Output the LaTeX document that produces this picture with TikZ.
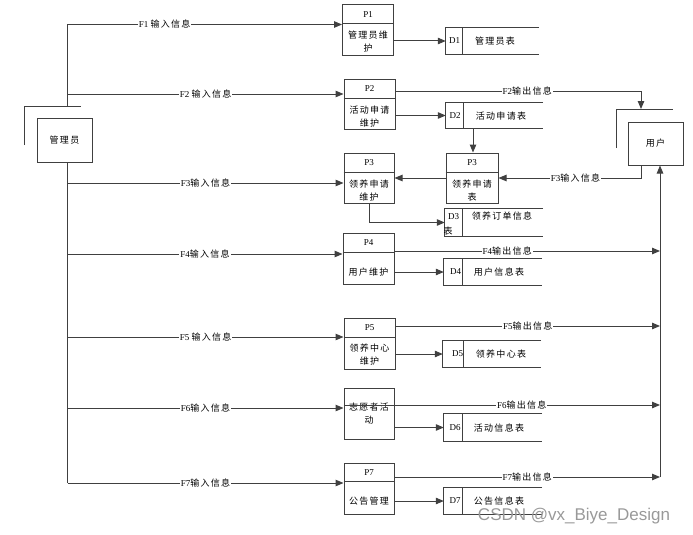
\documentclass[tikz,border=0pt]{standalone}
\usepackage{fontspec}
\setmainfont{Liberation Serif}
\newfontfamily\cjk[LetterSpace=14]{Noto Sans CJK SC}
\newfontfamily\wmfont{Liberation Sans}
\usetikzlibrary{arrows.meta}
\newcommand\zh[1]{{\cjk #1}}
\begin{document}
\begin{tikzpicture}[x=1pt,y=-1pt,
  every node/.style={font=\fontsize{9}{13}\selectfont, inner sep=0pt},
  zhn/.style={font=\cjk\fontsize{9}{13}\selectfont, align=center},
  ln/.style={draw=black!75, line width=1pt},
  arr/.style={ln, -{Triangle[length=8pt,width=6.5pt]}},
  proc/.style={ln, rectangle, minimum width=51pt, minimum height=51pt},
  ent/.style={ln, rectangle, minimum width=55pt, minimum height=44pt},
  store/.style={rectangle, draw=none, minimum width=98pt, minimum height=26pt},
  lbl/.style={fill=white, inner sep=1pt}]
\useasboundingbox (0,0) rectangle (693,535);

% ---------- entities ----------
\node[ent] (admin) at (64.5,140.5) {\zh{管理员}};
\draw[ln] (24,145) -- (24,106) -- (81,106);
\node[ent, minimum height=43pt] (user) at (655.5,143.5) {\zh{用户}};
\draw[ln] (616,148) -- (616,109) -- (673,109);
\coordinate (uin) at (641,109);

% ---------- processes ----------
\node[proc] (p1) at (368,30.5) {};
\node (p1h) at (368,14.5) {P1};
\node[zhn] (p1b) at (368,42) {管理员维\\护};
\draw[ln] (p1.west |- 0,24) -- (p1.east |- 0,24);

\node[proc, minimum height=50pt] (p2) at (369.5,104) {};
\node (p2h) at (369.5,88.5) {P2};
\node[zhn] (p2b) at (369.5,116.5) {活动申请\\维护};
\draw[ln] (p2.west |- 0,98) -- (p2.east |- 0,98);

\node[proc, minimum width=50pt, minimum height=50pt] (p3a) at (369,178) {};
\node (p3ah) at (369,162.5) {P3};
\node[zhn] (p3ab) at (369,190.5) {领养申请\\维护};
\draw[ln] (p3a.west |- 0,172) -- (p3a.east |- 0,172);

\node[proc, minimum width=52pt, minimum height=50pt] (p3b) at (472,178) {};
\node (p3bh) at (472,162.5) {P3};
\node[zhn] (p3bb) at (472,190.5) {领养申请\\表};
\draw[ln] (p3b.west |- 0,172) -- (p3b.east |- 0,172);

\node[proc] (p4) at (368.5,258.5) {};
\node (p4h) at (368.5,243) {P4};
\node[zhn] (p4b) at (368.5,272) {用户维护};
\draw[ln] (p4.west |- 0,252) -- (p4.east |- 0,252);

\node[proc] (p5) at (369.5,343.5) {};
\node (p5h) at (369.5,327.5) {P5};
\node[zhn] (p5b) at (369.5,355) {领养中心\\维护};
\draw[ln] (p5.west |- 0,337) -- (p5.east |- 0,337);

\node[proc, minimum width=50pt] (p6) at (369,413.5) {};
\node[zhn] (p6b) at (369,414) {志愿者活\\动};

\node[proc, minimum width=50pt] (p7) at (369,488.5) {};
\node (p7h) at (369,472.5) {P7};
\node[zhn] (p7b) at (369,501) {公告管理};
\draw[ln] (p7.west |- 0,481) -- (p7.east |- 0,481);

% ---------- data stores ----------
\node[store, minimum width=93pt] (d1) at (492.5,41) {};
\draw[ln] (d1.north east) -- (d1.north west) -- (d1.south west) -- (d1.south east);
\draw[ln] ([xshift=17pt]d1.north west) -- ([xshift=17pt]d1.south west);
\node (d1i) at (454.5,41) {D1};
\node[zhn] (d1t) at (495,41) {管理员表};

\node[store, minimum width=97pt, minimum height=25pt] (d2) at (494.5,115.5) {};
\draw[ln] (d2.north east) -- (d2.north west) -- (d2.south west) -- (d2.south east);
\draw[ln] ([xshift=18pt]d2.north west) -- ([xshift=18pt]d2.south west);
\node (d2i) at (455,116) {D2};
\node[zhn] (d2t) at (501,116) {活动申请表};

\node[store, minimum height=27pt] (d3) at (494,222.5) {};
\draw[ln] (d3.north east) -- (d3.north west) -- (d3.south west) -- (d3.south east);
\draw[ln] ([xshift=18pt]d3.north west) -- ([xshift=18pt]d3.south west);
\node (d3i) at (453.5,217) {D3};
\node[zhn] (d3t) at (502,216) {领养订单信息};
\node[zhn] (d3u) at (448,231) {表};

\node[store] (d4) at (493,272) {};
\draw[ln] (d4.north east) -- (d4.north west) -- (d4.south west) -- (d4.south east);
\draw[ln] ([xshift=19pt]d4.north west) -- ([xshift=19pt]d4.south west);
\node (d4i) at (455.5,272) {D4};
\node[zhn] (d4t) at (499,272) {用户信息表};

\node[store] (d5) at (492,354) {};
\draw[ln] (d5.north east) -- (d5.north west) -- (d5.south west) -- (d5.south east);
\draw[ln] ([xshift=21pt]d5.north west) -- ([xshift=21pt]d5.south west);
\node (d5i) at (457.5,354) {D5};
\node[zhn] (d5t) at (501,354) {领养中心表};

\node[store, minimum height=27pt] (d6) at (493,427.5) {};
\draw[ln] (d6.north east) -- (d6.north west) -- (d6.south west) -- (d6.south east);
\draw[ln] ([xshift=19pt]d6.north west) -- ([xshift=19pt]d6.south west);
\node (d6i) at (455,428) {D6};
\node[zhn] (d6t) at (499,428) {活动信息表};

\node[store] (d7) at (493,501) {};
\draw[ln] (d7.north east) -- (d7.north west) -- (d7.south west) -- (d7.south east);
\draw[ln] ([xshift=19pt]d7.north west) -- ([xshift=19pt]d7.south west);
\node (d7i) at (455,501) {D7};
\node[zhn] (d7t) at (499,501) {公告信息表};

% ---------- left trunk and inputs ----------
\coordinate (i1) at (67.7,24.5);
\coordinate (i2) at (67.7,94);
\coordinate (i3) at (67.7,183);
\coordinate (i4) at (67.7,254);
\coordinate (i5) at (67.7,337);
\coordinate (i6) at (67.7,408);
\coordinate (i7) at (67.7,483);
\draw[ln] (i1) -- (i1 |- 0,106);
\draw[ln] (admin.south -| i1) -- (i7);
\draw[arr] (i1) -- (i1 -| p1.west) node[lbl,pos=0.353] {F1 \zh{输入信息}};
\draw[arr] (i2) -- (i2 -| p2.west) node[lbl,pos=0.5] {F2 \zh{输入信息}};
\draw[arr] (i3) -- (i3 -| p3a.west) node[lbl,pos=0.5] {F3\zh{输入信息}};
\draw[arr] (i4) -- (i4 -| p4.west) node[lbl,pos=0.5] {F4\zh{输入信息}};
\draw[arr] (i5) -- (i5 -| p5.west) node[lbl,pos=0.5] {F5 \zh{输入信息}};
\draw[arr] (i6) -- (i6 -| p6.west) node[lbl,pos=0.5] {F6\zh{输入信息}};
\draw[arr] (i7) -- (i7 -| p7.west) node[lbl,pos=0.5] {F7\zh{输入信息}};

% ---------- internal flows ----------
\draw[arr] (p1.east |- d1) -- (d1.west);
\draw[arr] (p2.east |- d2) -- (d2.west);
\draw[arr] (d2.south -| 473,0) -- (p3b.north -| 473,0);
\draw[arr] (p3b.west) -- (p3a.east);
\draw[arr] (p3a.south) |- (d3.west);
\draw[arr] (p4.east |- d4) -- (d4.west);
\draw[arr] (p5.east |- d5) -- (d5.west);
\draw[arr] (p6.east |- d6) -- (d6.west);
\draw[arr] (p7.east |- d7) -- (d7.west);

% ---------- outputs ----------
\coordinate (r4) at (660,251);
\coordinate (r5) at (660,326);
\coordinate (r6) at (660,405);
\coordinate (r7) at (660,477);
\draw[arr] (p2.east |- 0,91) -- (uin |- 0,91) node[lbl,pos=0.537] {F2\zh{输出信息}} -- (uin);
\draw[arr] (user.south -| uin) -- (uin |- p3b.east) -- (p3b.east) node[lbl,pos=0.46] {F3\zh{输入信息}};
\draw[arr] (p4.east |- r4) -- (r4) node[lbl,pos=0.425] {F4\zh{输出信息}};
\draw[arr] (p5.east |- r5) -- (r5) node[lbl,pos=0.5] {F5\zh{输出信息}};
\draw[arr] (p6.west |- r6) -- (r6) node[lbl,pos=0.563] {F6\zh{输出信息}};
\draw[arr] (p7.east |- r7) -- (r7) node[lbl,pos=0.5] {F7\zh{输出信息}};
\draw[arr] (r7) -- (user.south -| r7);

% ---------- watermark ----------
\node[font=\wmfont\fontsize{17}{17}\selectfont, text=black!40] (wm) at (574,516) {CSDN @vx\_Biye\_Design};
\end{tikzpicture}
\end{document}
